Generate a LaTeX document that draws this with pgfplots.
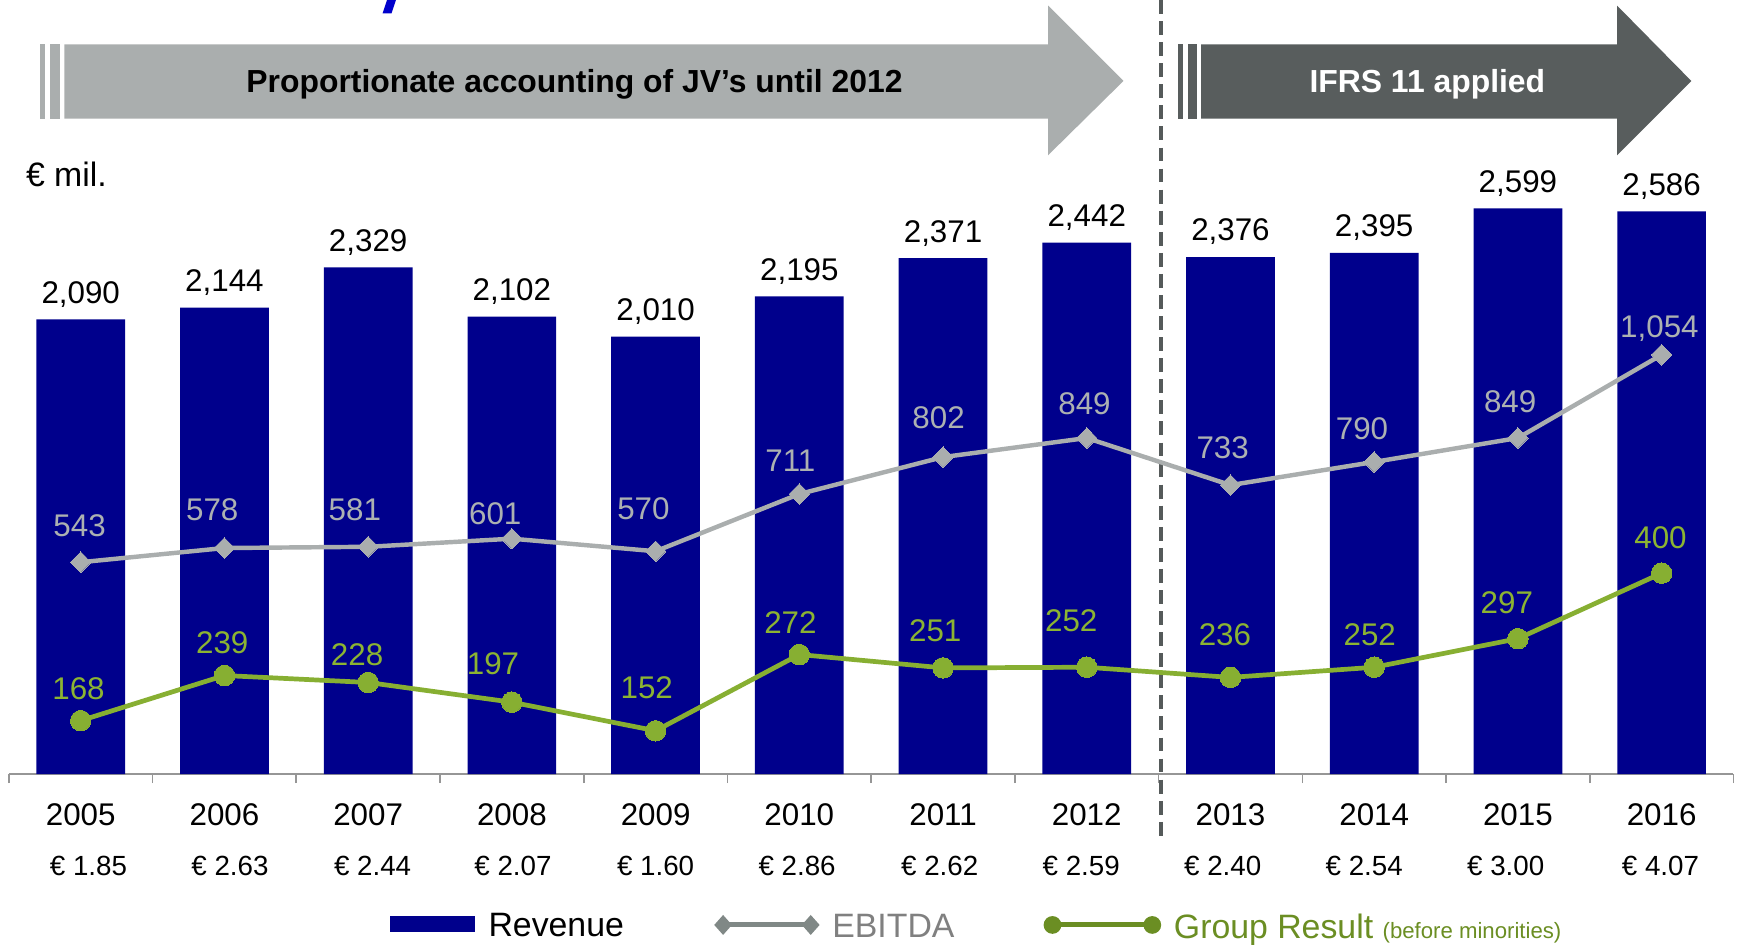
\documentclass[border=0pt]{standalone}
\usepackage{fontspec}
\setmainfont{Liberation Sans}
\usepackage{pgfplots}
\usepackage{pgfplotstable}
\pgfplotsset{compat=1.18}

\definecolor{barblue}{RGB}{0,0,140}
\definecolor{ebgray}{RGB}{170,174,174}
\definecolor{eblab}{RGB}{172,177,177}
\definecolor{grgreen}{RGB}{135,175,50}
\definecolor{grlab}{RGB}{140,180,50}
\definecolor{arrlight}{RGB}{170,174,174}
\definecolor{arrdark}{RGB}{88,93,93}
\definecolor{dashgray}{RGB}{85,90,90}
\definecolor{axisgray}{RGB}{150,150,150}
\definecolor{legebline}{RGB}{128,136,134}
\definecolor{legebtext}{RGB}{128,128,128}
\definecolor{legolive}{RGB}{107,142,35}

% revenue, EUR mil.
\pgfplotstableread{
x rev
0 2090
1 2144
2 2329
3 2102
4 2010
5 2195
6 2371
7 2442
8 2376
9 2395
10 2599
11 2586
}\revtab

% EBITDA, label offsets in px
\pgfplotstableread{
x y dx dy
0 543 -1 23
1 578 -11 25
2 581 -12 24
3 601 -15 13
4 570 -11 29
5 711 -8 20
6 802 -4 26
7 849 -2 21
8 733 -7 24
9 790 -11 20
10 849 -7 23
11 1054 -2 16
}\ebtab

% group result before minorities
\pgfplotstableread{
x y dx dy
0 168 -2 19
1 239 -2 20
2 228 -10 15
3 197 -17 25
4 152 -8 29
5 272 -8 19
6 251 -7 24
7 252 -14 32
8 236 -5 29
9 252 -4 20
10 297 -10 23
11 400 -1 22
}\grtab

\newcommand{\lab}{\fontsize{11.3}{13}\selectfont}
% second tick label line, shifted sideways by #1
\newcommand{\eps}[2]{{\fontsize{10}{18}\selectfont\makebox[0pt]{\hspace*{#1}\hspace*{#1}#2}}}

\pgfplotsset{
  common/.style={
    at={(3.2pt,-279.2pt)}, anchor=south west,
    width=622pt, height=279.2pt, scale only axis,
    xmin=-0.5, xmax=11.5, clip=false,
    /pgf/number format/assume math mode=true,
    /pgf/number format/1000 sep={,},
  },
}

\begin{document}
\begin{tikzpicture}
\begin{scope}[x=0.4pt, y=-0.4pt]
\useasboundingbox (0,0) rectangle (1568,852);
% cut-off title glyph
\fill[blue!80!black] (349,0) -- (357,0) -- (353,12) -- (345,12) -- cycle;
% period arrows
\fill[arrlight] (36,40) rectangle (41,107);
\fill[arrlight] (45,40) rectangle (54,107);
\fill[arrlight] (58,40) -- (945,40) -- (945,5) -- (1013,73) -- (945,140) -- (945,107) -- (58,107) -- cycle;
\node[font=\fontsize{11.5}{13}\selectfont\bfseries, anchor=base] at (518,83) {Proportionate accounting of JV’s until 2012};
\fill[arrdark] (1062,40) rectangle (1067,107);
\fill[arrdark] (1071,40) rectangle (1079,107);
\fill[arrdark] (1083,40) -- (1458,40) -- (1458,5) -- (1525,73) -- (1458,140) -- (1458,107) -- (1083,107) -- cycle;
\node[font=\fontsize{11.5}{13}\selectfont\bfseries, text=white, anchor=base] at (1287,83) {IFRS 11 applied};
\draw[dashgray, line width=1.5pt, dash pattern=on 5pt off 2.6pt] (1047,0) -- (1047,755);
\node[font=\fontsize{12.2}{14}\selectfont, anchor=base west, inner sep=0pt] at (23,168) {€ mil.};
% legend
\fill[barblue] (352,826) rectangle (428,840);
\node[font=\fontsize{12.2}{14}\selectfont, anchor=base west, inner sep=0pt] at (440,844) {Revenue};
\draw[legebline, line width=1.8pt] (652,834) -- (731,834);
\fill[legebline] (652,825) -- (660,834) -- (652,843) -- (644,834) -- cycle;
\fill[legebline] (731,825) -- (739,834) -- (731,843) -- (723,834) -- cycle;
\node[font=\fontsize{12.2}{14}\selectfont, text=legebtext, anchor=base west, inner sep=0pt] at (750,845) {EBITDA};
\draw[legolive, line width=1.8pt] (949,834) -- (1039,834);
\fill[legolive] (949,834) circle (8);
\fill[legolive] (1039,834) circle (8);
\node[font=\fontsize{12.2}{14}\selectfont, text=legolive, anchor=base west, inner sep=0pt] at (1058,846) {Group Result {\fontsize{8}{9}\selectfont (before minorities)}};
\end{scope}

% revenue bars
\begin{axis}[common, ymin=0, ymax=3557,
  axis y line=none, axis x line*=bottom,
  x axis line style={draw=axisgray, line width=0.6pt, -},
  xtick={0,...,11}, major tick length=0pt,
  minor xtick={-0.5,0.5,...,11.5}, minor tick length=3.2pt, tick align=outside,
  minor tick style={draw=axisgray, line width=0.6pt},
  xticklabel style={font=\fontsize{11.3}{18}\selectfont, align=center, anchor=north, inner sep=0pt, yshift=-10.4pt},
  xticklabels={
    {2005\\\eps{2.8pt}{€ 1.85}}, {2006\\\eps{2pt}{€ 2.63}}, {2007\\\eps{1.6pt}{€ 2.44}},
    {2008\\\eps{0.4pt}{€ 2.07}}, {2009\\\eps{0pt}{€ 1.60}}, {2010\\\eps{-0.8pt}{€ 2.86}},
    {2011\\\eps{-1.2pt}{€ 2.62}}, {2012\\\eps{-2pt}{€ 2.59}}, {2013\\\eps{-2.8pt}{€ 2.40}},
    {2014\\\eps{-3.6pt}{€ 2.54}}, {2015\\\eps{-4.4pt}{€ 3.00}}, {2016\\\eps{-0.4pt}{€ 4.07}}},
  ybar, bar width=32pt,
]
\addplot[fill=barblue, draw=none, nodes near coords,
  nodes near coords style={font=\lab, text=black, anchor=base, inner sep=0pt, yshift=5.8pt}]
  table[x=x, y=rev] {\revtab};
\end{axis}

% EBITDA line
\begin{axis}[common, hide axis, ymin=21, ymax=1928]
\addplot[ebgray, line width=1.6pt, mark=diamond*, mark size=3.7pt,
  mark options={xscale=1.33, fill=ebgray, draw=ebgray, line width=0pt},
  visualization depends on={\thisrow{dx} \as \labdx},
  visualization depends on={\thisrow{dy} \as \labdy},
  nodes near coords, point meta=y,
  nodes near coords style={font=\lab, text=eblab, anchor=base, inner sep=0pt,
    xshift=0.4pt*\labdx, yshift=0.4pt*\labdy}]
  table[x=x, y=y] {\ebtab};
\end{axis}

% group result line
\begin{axis}[common, hide axis, ymin=83.8, ymax=1302]
\addplot[grgreen, line width=1.7pt, mark=*, mark size=3.7pt,
  mark options={fill=grgreen, draw=grgreen, line width=0pt},
  visualization depends on={\thisrow{dx} \as \labdx},
  visualization depends on={\thisrow{dy} \as \labdy},
  nodes near coords, point meta=y,
  nodes near coords style={font=\lab, text=grlab, anchor=base, inner sep=0pt,
    xshift=0.4pt*\labdx, yshift=0.4pt*\labdy}]
  table[x=x, y=y] {\grtab};
\end{axis}
\end{tikzpicture}
\end{document}
